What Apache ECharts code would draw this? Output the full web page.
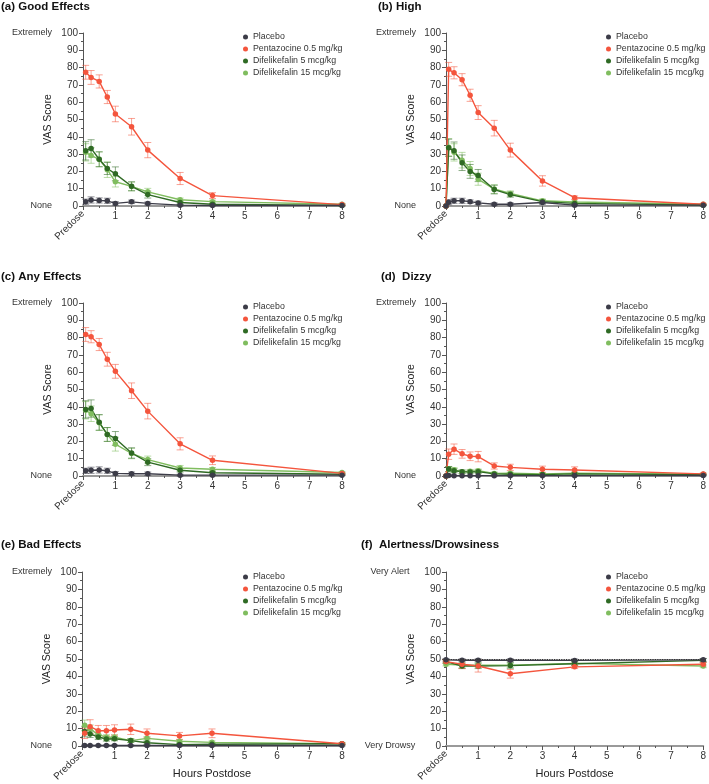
<!DOCTYPE html>
<html><head><meta charset="utf-8">
<script src="https://cdn.jsdelivr.net/npm/echarts@6/dist/echarts.min.js"></script>
<style>html,body{margin:0;padding:0;background:#fff}#c{width:709px;height:784px}</style>
</head><body><div id="c"></div>
<script>
// ---------- time points (hours) ----------
const timesACE = [0.083, 0.25, 0.5, 0.75, 1, 1.5, 2, 3, 4, 8];
const timesBD  = [0, 0.083, 0.25, 0.5, 0.75, 1, 1.5, 2, 3, 4, 8];
const timesF   = [0, 0.5, 1, 2, 4, 8];
const seriesNames = ['Placebo', 'Pentazocine 0.5 mg/kg', 'Difelikefalin 5 mcg/kg', 'Difelikefalin 15 mcg/kg'];
const yTicks = [0, 100];

// ---------- (a) Good Effects ----------
const goodPlacebo = [2.5, 3.5, 3.2, 3.0, 1.5, 2.4, 1.5, 0.5, 0.3, 0.3];
const goodPenta   = [77.3, 74.3, 72.0, 63.0, 53.2, 45.8, 32.3, 15.9, 6.0, 0.8];
const goodDif5    = [31.9, 33.3, 27.0, 21.7, 18.6, 11.4, 6.6, 2.0, 1.0, 0.3];
const goodDif15   = [31.0, 29.2, 27.0, 21.0, 14.0, 11.3, 8.2, 3.6, 2.5, 1.0];
const goodPlaceboErr = [1.5, 1.8, 1.5, 1.5, 1.0, 1.0, 0.8, 0.5, 0.3, 0.3];
const goodPentaErr   = [4.0, 4.0, 3.8, 3.8, 4.5, 4.8, 4.4, 3.5, 1.7, 0.5];
const goodDif5Err    = [5.3, 5.0, 4.3, 3.5, 4.0, 2.6, 2.0, 1.0, 0.5, 0.3];
const goodDif15Err   = [5.0, 4.5, 4.3, 4.5, 3.0, 2.5, 2.0, 1.0, 0.8, 0.5];

// ---------- (b) High ----------
const highPlacebo = [0, 2.2, 3.0, 3.0, 2.5, 1.8, 1.0, 1.0, 2.0, 0.5, 0.5];
const highPenta   = [0, 79.0, 77.0, 73.0, 64.0, 54.0, 45.0, 32.3, 14.5, 4.8, 1.0];
const highDif5    = [0, 33.6, 32.0, 25.0, 20.0, 17.6, 9.5, 6.6, 2.5, 1.5, 0.5];
const highDif15   = [0, 34.0, 31.0, 26.5, 21.7, 15.5, 9.8, 7.2, 3.0, 2.3, 1.0];
const highPlaceboErr = [0, 1.5, 1.5, 1.5, 1.0, 1.0, 0.8, 0.8, 1.0, 0.3, 0.3];
const highPentaErr   = [0, 4.0, 3.5, 3.5, 3.5, 4.0, 4.5, 4.0, 3.0, 1.0, 0.5];
const highDif5Err    = [0, 5.0, 5.0, 4.5, 4.0, 3.5, 2.5, 1.5, 1.0, 0.5, 0.3];
const highDif15Err   = [0, 5.0, 5.0, 4.5, 4.0, 3.5, 2.5, 1.5, 1.0, 0.5, 0.3];

// ---------- (c) Any Effects ----------
const anyPlacebo = [3.0, 3.3, 3.5, 3.0, 1.5, 1.3, 1.3, 0.5, 0.5, 0.5];
const anyPenta   = [81.8, 80.5, 76.0, 67.5, 60.5, 49.3, 37.5, 18.6, 9.1, 1.5];
const anyDif5    = [38.5, 39.0, 31.0, 24.0, 21.7, 13.3, 8.0, 3.3, 1.9, 1.0];
const anyDif15   = [38.0, 36.0, 30.8, 24.0, 18.4, 13.0, 9.5, 4.6, 3.9, 2.0];
const anyPlaceboErr = [1.5, 1.8, 1.8, 1.5, 1.0, 1.0, 1.0, 0.5, 0.3, 0.3];
const anyPentaErr   = [4.0, 3.5, 3.5, 4.0, 4.0, 4.5, 4.5, 3.5, 2.5, 0.5];
const anyDif5Err    = [5.0, 5.0, 4.5, 4.0, 4.0, 3.0, 2.0, 1.0, 0.8, 0.5];
const anyDif15Err   = [5.0, 4.5, 4.5, 4.0, 4.0, 3.0, 2.0, 1.5, 1.0, 0.5];

// ---------- (d) Dizzy ----------
const dizzyPlacebo = [0, 0.3, 0.2, 0.2, 0.2, 0.2, 0.2, 0.2, 0.2, 0.2, 0.3];
const dizzyPenta   = [0, 12.6, 15.5, 12.8, 11.4, 11.2, 5.8, 5.0, 3.9, 3.5, 1.2];
const dizzyDif5    = [0, 4.0, 3.0, 2.5, 2.3, 2.5, 1.2, 1.0, 0.8, 1.2, 0.8];
const dizzyDif15   = [0, 4.0, 3.6, 2.3, 2.8, 3.0, 1.5, 1.6, 1.2, 1.6, 1.0];
const dizzyPlaceboErr = [0, 0.3, 0.2, 0.2, 0.2, 0.2, 0.2, 0.2, 0.2, 0.2, 0.3];
const dizzyPentaErr   = [0, 3.0, 3.0, 2.5, 2.5, 3.0, 1.8, 1.8, 1.8, 1.8, 0.5];
const dizzyDif5Err    = [0, 1.5, 1.2, 1.0, 1.0, 1.0, 0.6, 0.6, 0.5, 0.8, 0.3];
const dizzyDif15Err   = [0, 1.5, 1.2, 1.0, 1.0, 1.0, 0.8, 0.6, 0.5, 0.8, 0.3];

// ---------- (e) Bad Effects ----------
const badPlacebo = [0.3, 0.3, 0.3, 0.3, 0.3, 0.3, 0.3, 0.3, 0.3, 0.3];
const badPenta   = [7.3, 11.1, 8.8, 8.8, 9.2, 9.6, 7.3, 5.8, 7.3, 1.3];
const badDif5    = [8.3, 6.9, 5.2, 4.0, 4.2, 3.1, 1.9, 0.8, 1.0, 1.3];
const badDif15   = [11.9, 9.6, 6.7, 5.0, 5.0, 3.1, 4.4, 2.7, 2.1, 1.3];
const badPlaceboErr = [0.3, 0.3, 0.3, 0.3, 0.3, 0.3, 0.3, 0.3, 0.3, 0.3];
const badPentaErr   = [3.0, 4.0, 3.0, 3.0, 3.0, 3.0, 2.5, 2.0, 2.5, 0.5];
const badDif5Err    = [3.0, 2.0, 1.5, 1.2, 1.2, 1.0, 0.8, 0.5, 0.5, 0.3];
const badDif15Err   = [3.0, 2.5, 2.0, 1.5, 1.5, 1.0, 1.0, 0.8, 0.8, 0.5];

// ---------- (f) Alertness/Drowsiness ----------
const alertPlacebo = [49.5, 49.3, 49.3, 49.3, 49.2, 49.5];
const alertPenta   = [48.5, 47.0, 46.0, 41.5, 45.5, 47.0];
const alertDif5    = [48.5, 46.0, 46.0, 46.2, 47.3, 49.2];
const alertDif15   = [47.0, 46.5, 46.5, 46.5, 47.5, 46.0];
const alertPlaceboErr = [0.8, 0.8, 0.8, 0.8, 0.8, 0.8];
const alertPentaErr   = [1.0, 2.5, 3.5, 2.5, 1.0, 1.0];
const alertDif5Err    = [1.0, 1.5, 1.5, 1.5, 1.0, 1.0];
const alertDif15Err   = [1.0, 1.5, 1.5, 1.5, 1.0, 1.0];
const alertRefLine = 50;

// ---------- build ----------
const colors = ['#3c3c48', '#f4553d', '#2f6a24', '#80bd5f'];
const FONT = '"Liberation Sans", Arial, sans-serif';

const panels = [
  {title: '(a) Good Effects', t: timesACE, v: [goodPlacebo, goodPenta, goodDif5, goodDif15], e: [goodPlaceboErr, goodPentaErr, goodDif5Err, goodDif15Err], hi: 'Extremely', lo: 'None',
   grid: {left: 83, top: 33, width: 259, height: 173}, tpos: {left: 1, top: 1}, lpos: {left: 243, top: 31}, lblMargin: 31, lblAlign: 'right'},
  {title: '(b) High', t: timesBD, v: [highPlacebo, highPenta, highDif5, highDif15], e: [highPlaceboErr, highPentaErr, highDif5Err, highDif15Err], hi: 'Extremely', lo: 'None',
   grid: {left: 446, top: 33, width: 258, height: 173}, tpos: {left: 378, top: 1}, lpos: {left: 606, top: 31}, lblMargin: 30, lblAlign: 'right'},
  {title: '(c) Any Effects', t: timesACE, v: [anyPlacebo, anyPenta, anyDif5, anyDif15], e: [anyPlaceboErr, anyPentaErr, anyDif5Err, anyDif15Err], hi: 'Extremely', lo: 'None',
   grid: {left: 83, top: 303, width: 259, height: 173}, tpos: {left: 1, top: 271}, lpos: {left: 243, top: 301}, lblMargin: 31, lblAlign: 'right'},
  {title: '(d)  Dizzy', t: timesBD, v: [dizzyPlacebo, dizzyPenta, dizzyDif5, dizzyDif15], e: [dizzyPlaceboErr, dizzyPentaErr, dizzyDif5Err, dizzyDif15Err], hi: 'Extremely', lo: 'None',
   grid: {left: 446, top: 303, width: 258, height: 173}, tpos: {left: 381, top: 271}, lpos: {left: 606, top: 301}, lblMargin: 30, lblAlign: 'right'},
  {title: '(e) Bad Effects', t: timesACE, v: [badPlacebo, badPenta, badDif5, badDif15], e: [badPlaceboErr, badPentaErr, badDif5Err, badDif15Err], hi: 'Extremely', lo: 'None',
   grid: {left: 82, top: 572, width: 260, height: 174}, tpos: {left: 1, top: 539}, lpos: {left: 243, top: 571}, lblMargin: 30, lblAlign: 'right', xname: true},
  {title: '(f)  Alertness/Drowsiness', t: timesF, v: [alertPlacebo, alertPenta, alertDif5, alertDif15], e: [alertPlaceboErr, alertPentaErr, alertDif5Err, alertDif15Err], hi: 'Very Alert', lo: 'Very Drowsy',
   grid: {left: 446, top: 572, width: 260, height: 174}, tpos: {left: 361, top: 539}, lpos: {left: 606, top: 571}, lblMargin: 56, lblAlign: 'center', xname: true, ref: alertRefLine}
];

function renderErr(params, api) {
  const x = api.value(0), y = api.value(1), e = api.value(2);
  if (!e) return null;
  const a = api.coord([x, y + e]), b = api.coord([x, y - e]);
  const w = 3.5;
  const style = {stroke: api.visual('color'), lineWidth: 1, opacity: 0.55};
  return {type: 'group', children: [
    {type: 'line', shape: {x1: a[0], y1: a[1], x2: b[0], y2: b[1]}, style},
    {type: 'line', shape: {x1: a[0] - w, y1: a[1], x2: a[0] + w, y2: a[1]}, style},
    {type: 'line', shape: {x1: b[0] - w, y1: b[1], x2: b[0] + w, y2: b[1]}, style}
  ]};
}

const option = {animation: false, textStyle: {fontFamily: FONT}, title: [], grid: [], xAxis: [], yAxis: [], legend: [], series: []};
const drawOrder = [3, 2, 1, 0];

panels.forEach((p, i) => {
  option.title.push({text: p.title, left: p.tpos.left, top: p.tpos.top, padding: 0,
    textStyle: {fontSize: 11.5, fontWeight: 'bold', color: '#111', fontFamily: FONT}});
  option.grid.push(Object.assign({containLabel: false}, p.grid));
  option.xAxis.push({type: 'value', gridIndex: i, min: 0, max: 8, interval: 1,
    name: p.xname ? 'Hours Postdose' : '', nameLocation: 'middle', nameGap: 22,
    nameTextStyle: {fontSize: 11, color: '#222', fontFamily: FONT},
    axisLine: {lineStyle: {color: '#9a9a9a', width: 2}},
    axisTick: {show: true, length: 4, lineStyle: {color: '#555'}},
    minorTick: {show: true, splitNumber: 2, length: 2, lineStyle: {color: '#555'}},
    splitLine: {show: false},
    axisLabel: {fontSize: 10, color: '#333', margin: 5, formatter: v => v === 0 ? '' : String(v)}});
  option.xAxis.push({type: 'value', gridIndex: i, position: 'bottom', min: 0, max: 8, interval: 1,
    axisLine: {show: false}, axisTick: {show: false}, splitLine: {show: false},
    axisLabel: {fontSize: 10, color: '#333', margin: 6, rotate: 45, showMinLabel: true,
      formatter: v => v === 0 ? 'Predose' : ''}});
  option.yAxis.push({type: 'value', gridIndex: i, min: 0, max: 100, interval: 10,
    name: 'VAS Score', nameLocation: 'middle', nameGap: 29,
    nameTextStyle: {fontSize: 10.5, color: '#222', fontFamily: FONT},
    axisLine: {show: true, lineStyle: {color: '#555', width: 1}},
    axisTick: {show: true, length: 4, lineStyle: {color: '#555'}},
    minorTick: {show: true, splitNumber: 2, length: 2, lineStyle: {color: '#555'}},
    splitLine: {show: false},
    axisLabel: {fontSize: 10, color: '#333', margin: 5}});
  option.yAxis.push({type: 'value', gridIndex: i, position: 'left', min: 0, max: 100, interval: 100,
    axisLine: {show: false}, axisTick: {show: false}, splitLine: {show: false},
    axisLabel: {fontSize: 9, color: '#333', margin: p.lblMargin, align: p.lblAlign,
      showMinLabel: true, showMaxLabel: true,
      formatter: v => v === yTicks[1] ? p.hi : (v === yTicks[0] ? p.lo : '')}});
  option.legend.push({orient: 'vertical', left: p.lpos.left, top: p.lpos.top, padding: 0,
    itemWidth: 5, itemHeight: 5, itemGap: 0, icon: 'circle', selectedMode: false,
    textStyle: {fontSize: 8.8, color: '#333', lineHeight: 12, fontFamily: FONT},
    data: seriesNames.slice()});
  drawOrder.forEach(k => {
    const data = p.t.map((t, j) => [t, p.v[k][j]]);
    const edata = p.t.map((t, j) => [t, p.v[k][j], p.e[k][j]]);
    option.series.push({type: 'custom', name: 'err' + k, xAxisIndex: 2 * i, yAxisIndex: 2 * i,
      itemStyle: {color: colors[k]}, encode: {x: 0, y: 1}, data: edata, renderItem: renderErr, silent: true, z: 2});
    const s = {type: 'line', name: seriesNames[k], xAxisIndex: 2 * i, yAxisIndex: 2 * i,
      data, symbol: 'circle', symbolSize: 5.5, showSymbol: true,
      itemStyle: {color: colors[k]}, lineStyle: {color: colors[k], width: 1.4}, z: 3};
    if (p.ref !== undefined && k === 0) {
      s.markLine = {silent: true, symbol: 'none', label: {show: false},
        lineStyle: {color: '#333', type: 'dotted', width: 1.2}, data: [{yAxis: p.ref}]};
    }
    option.series.push(s);
  });
});

const chart = echarts.init(document.getElementById('c'), null, {renderer: 'canvas'});
chart.setOption(option);
</script>
</body></html>
